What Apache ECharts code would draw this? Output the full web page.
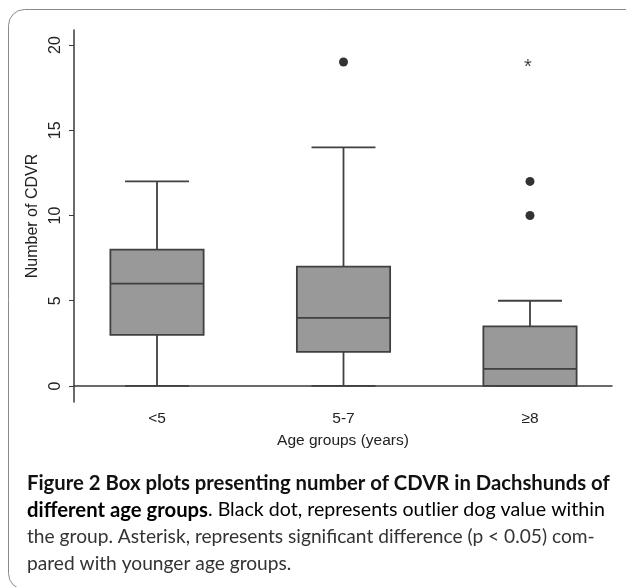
<!DOCTYPE html>
<html>
<head>
<meta charset="utf-8">
<script src="https://cdn.jsdelivr.net/npm/echarts@6/dist/echarts.min.js"></script>
<style>
  html, body { margin: 0; padding: 0; background: #fff; }
  #chart { width: 626px; height: 587px; }
</style>
</head>
<body>
<div id="chart"></div>
<script>
// data
var categories = ['<5', '5-7', '≥8'];
var whiskerLow = [0, 0, 0];
var quartile1 = [3, 2, 0];
var medians = [6, 4, 1];
var quartile3 = [8, 7, 3.5];
var whiskerHigh = [12, 14, 5];
var outlierGroup = [1, 2, 2];
var outlierValue = [19, 12, 10];
var starGroup = [2];
var starValue = [19];
var yTicks = [0, 5, 10, 15, 20];

var axisFont = 'Liberation Sans, Arial, sans-serif';
var capFont = 'Lato, sans-serif';

var boxData = categories.map(function (c, i) {
  return [i, whiskerLow[i], quartile1[i], medians[i], quartile3[i], whiskerHigh[i]];
});
var outlierData = outlierGroup.map(function (g, i) { return [g, outlierValue[i]]; });
var starData = starGroup.map(function (g, i) { return [g, starValue[i]]; });

function renderBox(params, api) {
  var i = api.value(0);
  var lo = api.coord([i, api.value(1)]);
  var q1 = api.coord([i, api.value(2)]);
  var md = api.coord([i, api.value(3)]);
  var q3 = api.coord([i, api.value(4)]);
  var hi = api.coord([i, api.value(5)]);
  var band = api.size([1, 0])[0];
  var bw = band * 0.5, cw = band * 0.343;
  var x = lo[0];
  var ls = { stroke: '#404040', lineWidth: 1.8 };
  return {
    type: 'group',
    children: [
      { type: 'line', shape: { x1: x, y1: q3[1], x2: x, y2: hi[1] }, style: ls },
      { type: 'line', shape: { x1: x, y1: q1[1], x2: x, y2: lo[1] }, style: ls },
      { type: 'line', shape: { x1: x - cw / 2, y1: hi[1], x2: x + cw / 2, y2: hi[1] }, style: ls },
      { type: 'line', shape: { x1: x - cw / 2, y1: lo[1], x2: x + cw / 2, y2: lo[1] }, style: ls },
      { type: 'rect', shape: { x: x - bw / 2, y: q3[1], width: bw, height: q1[1] - q3[1] },
        style: { fill: '#999999', stroke: '#404040', lineWidth: 1.8 } },
      { type: 'line', shape: { x1: x - bw / 2, y1: md[1], x2: x + bw / 2, y2: md[1] }, style: ls }
    ]
  };
}

var myChart = echarts.init(document.getElementById('chart'));

var option = {
  animation: false,
  backgroundColor: '#fff',
  grid: [
    { left: 74, top: 30, width: 538, height: 372 },
    { left: 63.75, top: 30, width: 559.5, height: 372 }
  ],
  xAxis: [
    {
      gridIndex: 0, type: 'value', min: 0, max: 1,
      axisLine: { lineStyle: { color: '#3a3a3a', width: 1.5 } },
      axisTick: { show: false }, axisLabel: { show: false }, splitLine: { show: false },
      name: 'Age groups (years)', nameLocation: 'middle', nameGap: 31,
      nameTextStyle: { fontFamily: axisFont, fontSize: 15.5, color: '#222' }
    },
    {
      gridIndex: 1, type: 'category', data: categories,
      axisLine: { show: false }, axisTick: { show: false },
      axisLabel: { fontFamily: axisFont, fontSize: 15.5, color: '#222', margin: 9 }
    }
  ],
  yAxis: [
    {
      gridIndex: 0, type: 'value', min: -0.94, max: 20.88,
      axisLine: { show: true, lineStyle: { color: '#3a3a3a', width: 1.5 } },
      axisTick: { show: true, length: 5, customValues: yTicks, lineStyle: { color: '#3a3a3a' } },
      axisLabel: { customValues: yTicks, rotate: 90, margin: 10, fontFamily: axisFont, fontSize: 16, color: '#222' },
      splitLine: { show: false },
      name: 'Number of CDVR', nameLocation: 'middle', nameGap: 28,
      nameTextStyle: { fontFamily: axisFont, fontSize: 16, color: '#222' }
    },
    {
      gridIndex: 1, type: 'value', min: -0.94, max: 20.88, show: false
    }
  ],
  series: [
    {
      type: 'custom', xAxisIndex: 1, yAxisIndex: 1,
      renderItem: renderBox, data: boxData, clip: false
    },
    {
      type: 'scatter', xAxisIndex: 1, yAxisIndex: 1,
      symbol: 'circle', symbolSize: 9, itemStyle: { color: '#000' },
      data: outlierData
    },
    {
      type: 'scatter', xAxisIndex: 1, yAxisIndex: 1,
      symbolSize: 1, itemStyle: { color: 'transparent' },
      label: { show: true, position: 'inside', formatter: '*', offset: [-2, 5],
               fontFamily: axisFont, fontSize: 20, color: '#111' },
      data: starData
    }
  ],
  graphic: [
    { type: 'rect', shape: { x: 8.5, y: 9.5, width: 640, height: 580, r: 16 },
      style: { fill: 'none', stroke: '#8a8a8a', lineWidth: 1 } },
    { type: 'text', x: 27, y: 483,
      style: { text: 'Figure 2 Box plots presenting number of CDVR in Dachshunds of',
               font: 'bold 20.3px ' + capFont, fill: '#111', verticalAlign: 'middle' } },
    { type: 'text', x: 27, y: 510,
      style: { text: '{b|different age groups}{r|. Black dot, represents outlier dog value within}',
               verticalAlign: 'middle',
               rich: { b: { fontFamily: capFont, fontWeight: 'bold', fontSize: 20.3, color: '#111' },
                       r: { fontFamily: capFont, fontSize: 19.6, color: '#333' } } } },
    { type: 'text', x: 27, y: 537, scaleX: 0.958,
      style: { text: 'the group. Asterisk, represents significant difference (p < 0.05) com-',
               font: '20px ' + capFont, fill: '#333', verticalAlign: 'middle' } },
    { type: 'text', x: 27, y: 564, scaleX: 0.958,
      style: { text: 'pared with younger age groups.',
               font: '20px ' + capFont, fill: '#333', verticalAlign: 'middle' } }
  ]
};

myChart.setOption(option);
</script>
</body>
</html>
